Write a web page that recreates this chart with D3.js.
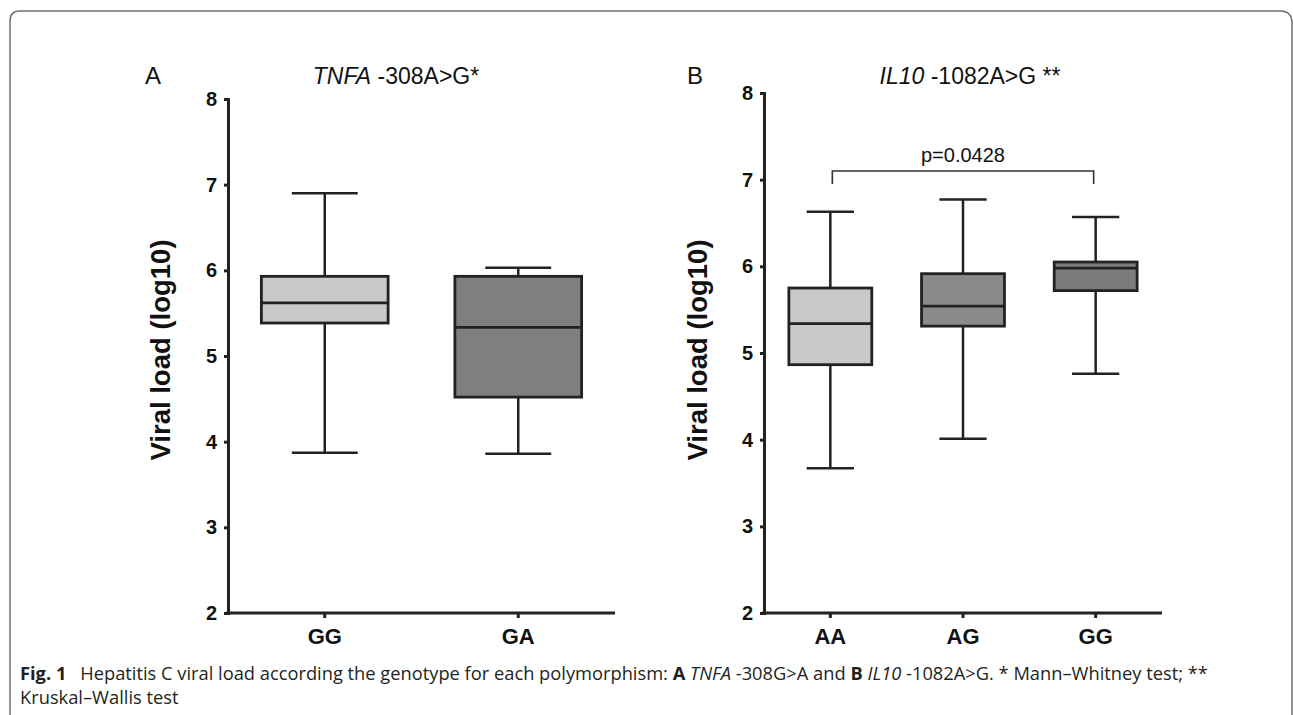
<!DOCTYPE html>
<html>
<head>
<meta charset="utf-8">
<script src="https://cdn.jsdelivr.net/npm/d3@7"></script>
<style>
  body { margin: 0; background: #fff; }
  svg { display: block; }
  .axis text { font-family: "Liberation Sans", Arial, sans-serif; font-weight: bold; font-size: 20px; fill: #111; }
  .axis.xax text { font-size: 22px; }
  .axis path, .axis line { stroke: #222; stroke-width: 3; }
</style>
</head>
<body>
<script>
// y ticks shared by both panels
var yTicks = [2, 3, 4, 5, 6, 7, 8];

// panel A: TNFA -308A>G
var catsA = ["GG", "GA"],
    minA = [3.87, 3.86],
    q1A = [5.385, 4.52],
    medA = [5.62, 5.335],
    q3A = [5.93, 5.93],
    maxA = [6.90, 6.03];

// panel B: IL10 -1082A>G
var catsB = ["AA", "AG", "GG"],
    minB = [3.67, 4.01, 4.76],
    q1B = [4.865, 5.31, 5.72],
    medB = [5.34, 5.54, 5.98],
    q3B = [5.75, 5.915, 6.05],
    maxB = [6.63, 6.77, 6.57];

// significance bracket in panel B
var bracketFrom = "AA", bracketTo = "GG", bracketAt = 7.10, bracketDrop = 0.15, pText = "p=0.0428";

var fillsA = ["#c9c9c9", "#7f7f7f"],
    fillsB = ["#c9c9c9", "#8a8a8a", "#7c7c7c"];

var svg = d3.select("body").append("svg").attr("width", 1293).attr("height", 715);

// frame around figure
svg.append("path")
  .attr("d", "M10,720 V21 Q10,11 20,11 H1280 Q1292,11 1292,23 V720")
  .attr("fill", "none").attr("stroke", "#6f6f6f").attr("stroke-width", 1.5);

function makeRows(cats, mins, q1s, meds, q3s, maxs) {
  return cats.map(function (c, i) {
    return {cat: c, min: mins[i], q1: q1s[i], med: meds[i], q3: q3s[i], max: maxs[i], i: i};
  });
}

function drawPanel(opt) {
  var x = d3.scaleBand().domain(opt.rows.map(function (d) { return d.cat; })).range(opt.xr).padding(0);
  var y = d3.scaleLinear().domain([2, 8]).range(opt.yr);
  var g = svg.append("g");

  var bw = x.bandwidth() * opt.boxFrac, cw = bw * opt.capFrac;

  var box = g.selectAll(".box").data(opt.rows).enter().append("g")
    .attr("transform", function (d) { return "translate(" + (x(d.cat) + x.bandwidth() / 2) + ",0)"; });

  box.append("line")
    .attr("x1", 0).attr("x2", 0)
    .attr("y1", function (d) { return y(d.max); }).attr("y2", function (d) { return y(d.min); })
    .attr("stroke", "#222").attr("stroke-width", 2.5);
  box.append("line")
    .attr("x1", -cw / 2).attr("x2", cw / 2)
    .attr("y1", function (d) { return y(d.max); }).attr("y2", function (d) { return y(d.max); })
    .attr("stroke", "#222").attr("stroke-width", 2.5);
  box.append("line")
    .attr("x1", -cw / 2).attr("x2", cw / 2)
    .attr("y1", function (d) { return y(d.min); }).attr("y2", function (d) { return y(d.min); })
    .attr("stroke", "#222").attr("stroke-width", 2.5);
  box.append("rect")
    .attr("x", -bw / 2).attr("width", bw)
    .attr("y", function (d) { return y(d.q3); })
    .attr("height", function (d) { return y(d.q1) - y(d.q3); })
    .attr("fill", function (d) { return opt.fills[d.i]; })
    .attr("stroke", "#222").attr("stroke-width", 2.8);
  box.append("line")
    .attr("x1", -bw / 2).attr("x2", bw / 2)
    .attr("y1", function (d) { return y(d.med); }).attr("y2", function (d) { return y(d.med); })
    .attr("stroke", "#222").attr("stroke-width", 2.8);

  g.append("g").attr("class", "axis")
    .attr("transform", "translate(" + opt.xr[0] + ",0)")
    .call(d3.axisLeft(y).tickValues(yTicks).tickFormat(d3.format("d")).tickSize(4).tickPadding(7));

  var xa = g.append("g").attr("class", "axis xax")
    .attr("transform", "translate(0," + opt.yr[0] + ")")
    .call(d3.axisBottom(x).tickSize(5).tickSizeOuter(0).tickPadding(10));
  xa.select(".domain").attr("d", "M" + (opt.xr[0] - 2) + ",0H" + opt.xr[1]);

  // y axis title
  svg.append("text")
    .attr("transform", "translate(" + opt.titleX + ",350) rotate(-90)")
    .attr("text-anchor", "middle").attr("dy", "0.35em")
    .style("font-family", "Liberation Sans, Arial, sans-serif").style("font-weight", "bold")
    .style("font-size", "27.5px").style("fill", "#111")
    .text("Viral load (log10)");

  // panel letter
  svg.append("text").attr("x", opt.letterX).attr("y", 84)
    .attr("text-anchor", "middle")
    .style("font-family", "Liberation Sans, Arial, sans-serif").style("font-size", "24px").style("fill", "#111")
    .text(opt.letter);

  // panel title
  var t = svg.append("text").attr("x", opt.headX).attr("y", 84)
    .attr("text-anchor", "middle")
    .style("font-family", "Liberation Sans, Arial, sans-serif").style("font-size", "23px").style("fill", "#111");
  t.append("tspan").style("font-style", "italic").text(opt.gene);
  t.append("tspan").text(opt.rest);

  return {x: x, y: y, g: g};
}

var pa = drawPanel({
  rows: makeRows(catsA, minA, q1A, medA, q3A, maxA),
  xr: [228, 615], yr: [613, 99], boxFrac: 0.655, capFrac: 0.52, fills: fillsA,
  titleX: 160, letter: "A", letterX: 153, headX: 396, gene: "TNFA", rest: " -308A>G*"
});

var pb = drawPanel({
  rows: makeRows(catsB, minB, q1B, medB, q3B, maxB),
  xr: [764, 1162], yr: [613, 93], boxFrac: 0.625, capFrac: 0.57, fills: fillsB,
  titleX: 697, letter: "B", letterX: 695, headX: 970, gene: "IL10", rest: " -1082A>G **"
});

// bracket
var bx1 = pb.x(bracketFrom) + pb.x.bandwidth() / 2 + 2,
    bx2 = pb.x(bracketTo) + pb.x.bandwidth() / 2 - 2,
    by = pb.y(bracketAt), byd = pb.y(bracketAt - bracketDrop);
svg.append("path")
  .attr("d", "M" + bx1 + "," + byd + "V" + by + "H" + bx2 + "V" + byd)
  .attr("fill", "none").attr("stroke", "#333").attr("stroke-width", 1.6);
svg.append("text").attr("x", (bx1 + bx2) / 2).attr("y", by - 9)
  .attr("text-anchor", "middle")
  .style("font-family", "Liberation Sans, Arial, sans-serif").style("font-size", "20px").style("fill", "#111")
  .text(pText);

// caption
var cap = svg.append("text").attr("x", 20).attr("y", 680)
  .style("font-family", "Open Sans, sans-serif").style("font-size", "18.3px").style("fill", "#231f20");
cap.append("tspan").style("font-weight", "bold").text("Fig. 1");
cap.append("tspan").text("\u2002 Hepatitis C viral load according the genotype for each polymorphism: ");
cap.append("tspan").style("font-weight", "bold").text("A");
cap.append("tspan").text(" ");
cap.append("tspan").style("font-style", "italic").text("TNFA");
cap.append("tspan").text(" -308G>A and ");
cap.append("tspan").style("font-weight", "bold").text("B");
cap.append("tspan").text(" ");
cap.append("tspan").style("font-style", "italic").text("IL10");
cap.append("tspan").text(" -1082A>G. * Mann\u2013Whitney test; **");
svg.append("text").attr("x", 20).attr("y", 704)
  .style("font-family", "Open Sans, sans-serif").style("font-size", "18.3px").style("fill", "#231f20")
  .text("Kruskal\u2013Wallis test");
</script>
</body>
</html>
